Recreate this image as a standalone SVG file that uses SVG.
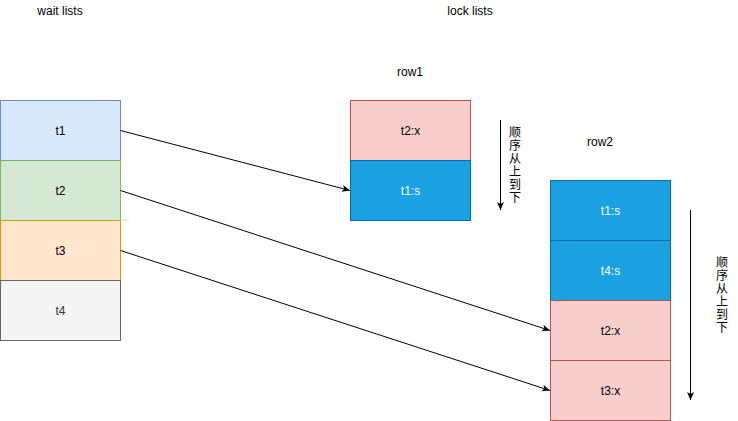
<svg xmlns="http://www.w3.org/2000/svg" width="738" height="421" viewBox="0 0 738 421">
<defs>
<marker id="ah" markerWidth="10" markerHeight="10" refX="8" refY="5" orient="auto" markerUnits="userSpaceOnUse">
<path d="M0,1.5 L8,5 L0,8.5 L2,5 Z" fill="#000"/>
</marker>
</defs>
<style>
text{font-family:"Liberation Sans",Arial,Helvetica,sans-serif;font-size:12px;text-anchor:middle;dominant-baseline:central;fill:#000}
.blue{fill:#dae8fc;stroke:#6c8ebf}
.green{fill:#d5e8d4;stroke:#82b366}
.orange{fill:#ffe6cc;stroke:#d79b00}
.gray{fill:#f5f5f5;stroke:#666666}
.red{fill:#f8cecc;stroke:#b85450}
.dblue{fill:#1ba1e2;stroke:#006eaf}
.w{fill:#fff}
.g{fill:#333}
.cjk{font-family:"Liberation Sans","Noto Sans CJK SC",sans-serif;fill:#000}
.ln{stroke:#000;stroke-width:1;fill:none}
</style>
<rect width="738" height="421" fill="#fff"/>
<text x="60" y="11">wait lists</text>
<text x="470" y="11">lock lists</text>
<text x="410" y="72">row1</text>
<text x="600" y="142">row2</text>
<g id="t1"><rect class="blue" x="0.5" y="100.5" width="120" height="60"/><text x="60.5" y="130.5">t1</text></g>
<g id="t2"><rect class="green" x="0.5" y="160.5" width="120" height="60"/><text x="60.5" y="190.5">t2</text></g>
<g id="t3"><rect class="orange" x="0.5" y="220.5" width="120" height="60"/><text x="60.5" y="250.5">t3</text></g>
<g id="t4"><rect class="gray" x="0.5" y="280.5" width="120" height="60"/><text class="g" x="60.5" y="310.5">t4</text></g>
<g id="row1-t2x"><rect class="red" x="350.5" y="100.5" width="120" height="60"/><text x="410.5" y="130.5">t2:x</text></g>
<g id="row1-t1s"><rect class="dblue" x="350.5" y="160.5" width="120" height="60"/><text class="w" x="410.5" y="190.5">t1:s</text></g>
<g id="row2-t1s"><rect class="dblue" x="550.5" y="180.5" width="120" height="60"/><text class="w" x="610.5" y="210.5">t1:s</text></g>
<g id="row2-t4s"><rect class="dblue" x="550.5" y="240.5" width="120" height="60"/><text class="w" x="610.5" y="270.5">t4:s</text></g>
<g id="row2-t2x"><rect class="red" x="550.5" y="300.5" width="120" height="60"/><text x="610.5" y="330.5">t2:x</text></g>
<g id="row2-t3x"><rect class="red" x="550.5" y="360.5" width="120" height="60"/><text x="610.5" y="390.5">t3:x</text></g>
<g id="connectors">
<line class="ln" x1="120.5" y1="130.5" x2="350" y2="190.5" marker-end="url(#ah)"/>
<line class="ln" x1="120.5" y1="190.5" x2="550" y2="330.5" marker-end="url(#ah)"/>
<line class="ln" x1="120.5" y1="250.5" x2="550" y2="390.5" marker-end="url(#ah)"/>
<line class="ln" x1="500.5" y1="120" x2="500.5" y2="210" marker-end="url(#ah)"/>
<line class="ln" x1="690.5" y1="210" x2="690.5" y2="400" marker-end="url(#ah)"/>
</g>
<g id="order1">
<text class="cjk" x="515" y="132.5">顺</text>
<text class="cjk" x="515" y="145.5">序</text>
<text class="cjk" x="515" y="158.5">从</text>
<text class="cjk" x="515" y="171.5">上</text>
<text class="cjk" x="515" y="184.5">到</text>
<text class="cjk" x="515" y="197.5">下</text>
</g>
<g id="order2">
<text class="cjk" x="722" y="262.5">顺</text>
<text class="cjk" x="722" y="275.5">序</text>
<text class="cjk" x="722" y="288.5">从</text>
<text class="cjk" x="722" y="301.5">上</text>
<text class="cjk" x="722" y="314.5">到</text>
<text class="cjk" x="722" y="327.5">下</text>
</g>
</svg>
